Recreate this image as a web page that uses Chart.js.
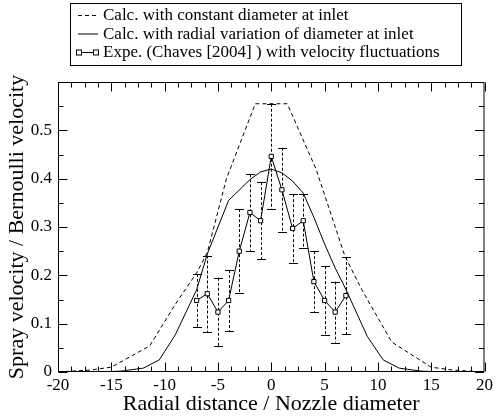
<!DOCTYPE html>
<html>
<head>
<meta charset="utf-8">
<script src="https://cdn.jsdelivr.net/npm/chart.js@4/dist/chart.umd.min.js"></script>
<style>
  html, body { margin: 0; padding: 0; background: #fff; }
  #wrap { width: 496px; height: 420px; }
</style>
</head>
<body>
<div id="wrap"><canvas id="chart" width="496" height="420"></canvas></div>
<script>
// Calc. with constant diameter at inlet (dashed)
const constX = [-20, -17, -15, -11.4, -9, -7, -6, -4.2, -1.5, 1.5, 4.2, 6.9, 8.5, 11.3, 15, 17, 20];
const constY = [0, 0.004, 0.01, 0.054, 0.14, 0.205, 0.247, 0.40, 0.555, 0.555, 0.42, 0.24, 0.17, 0.062, 0.01, 0.004, 0];

// Calc. with radial variation of diameter at inlet (solid)
const radialX = [-20, -16, -14, -12, -10.5, -9, -7, -6, -4, -2, -1, 0, 1, 2, 3, 4, 5, 6, 7, 9, 10.5, 12, 14, 16, 20];
const radialY = [0, 0, 0.002, 0.008, 0.025, 0.077, 0.17, 0.244, 0.355, 0.398, 0.414, 0.42, 0.412, 0.395, 0.37, 0.32, 0.265, 0.215, 0.171, 0.074, 0.025, 0.008, 0.002, 0, 0];

// Experiment (Chaves 2004) with velocity fluctuations
const expX = [-7, -6, -5, -4, -3, -2, -1, 0, 1, 2, 3, 4, 5, 6, 7];
const expY = [0.148, 0.162, 0.124, 0.148, 0.25, 0.33, 0.313, 0.446, 0.377, 0.297, 0.313, 0.187, 0.148, 0.124, 0.158];
const expErr = [0.055, 0.079, 0.071, 0.063, 0.087, 0.079, 0.08, 0.109, 0.087, 0.071, 0.056, 0.063, 0.071, 0.063, 0.08];

const xTicks = [-20, -15, -10, -5, 0, 5, 10, 15, 20];
const yTicks = [0, 0.1, 0.2, 0.3, 0.4, 0.5, 0.6];
const seriesNames = [
  'Calc. with constant diameter at inlet',
  'Calc. with radial variation of diameter at inlet',
  'Expe. (Chaves [2004] ) with velocity fluctuations'
];

const serif = '"Liberation Serif", "DejaVu Serif", serif';
const toPoints = (xs, ys) => xs.map((x, i) => ({ x: x, y: ys[i] }));

// error bars under the markers
const errorBars = {
  id: 'errorBars',
  beforeDatasetsDraw(chart) {
    const { ctx, scales: { x, y } } = chart;
    ctx.save();
    ctx.strokeStyle = '#000';
    ctx.lineWidth = 1;
    expX.forEach((v, i) => {
      const px = Math.round(x.getPixelForValue(v)) + 0.5;
      const top = y.getPixelForValue(expY[i] + expErr[i]);
      const bot = y.getPixelForValue(expY[i] - expErr[i]);
      ctx.setLineDash([3, 2]);
      ctx.beginPath();
      ctx.moveTo(px, top);
      ctx.lineTo(px, bot);
      ctx.stroke();
      ctx.setLineDash([]);
      ctx.beginPath();
      ctx.moveTo(px - 4.5, Math.round(top) + 0.5);
      ctx.lineTo(px + 4.5, Math.round(top) + 0.5);
      ctx.moveTo(px - 4.5, Math.round(bot) + 0.5);
      ctx.lineTo(px + 4.5, Math.round(bot) + 0.5);
      ctx.stroke();
    });
    ctx.restore();
  }
};

// frame with inward ticks on all four sides
const frameTicks = {
  id: 'frameTicks',
  afterDraw(chart) {
    const { ctx, chartArea: a, scales: { x, y } } = chart;
    const L = a.left + 0.5, R = a.right - 0.5, T = a.top + 0.5, B = a.bottom - 0.5;
    ctx.save();
    ctx.strokeStyle = '#000';
    ctx.lineWidth = 1;
    ctx.strokeRect(L, T, R - L, B - T);
    ctx.beginPath();
    for (let i = 0; i <= 32; i++) {
      const px = Math.round(x.getPixelForValue(-20 + i * 1.25)) + 0.5;
      const len = i % 4 === 0 ? 9 : 5;
      ctx.moveTo(px, B); ctx.lineTo(px, B - len);
      ctx.moveTo(px, T); ctx.lineTo(px, T + len);
    }
    for (let i = 0; i <= 12; i++) {
      const py = Math.round(y.getPixelForValue(i * 0.05)) + 0.5;
      const len = i % 2 === 0 ? 9 : 5;
      ctx.moveTo(L, py); ctx.lineTo(L + len, py);
      ctx.moveTo(R, py); ctx.lineTo(R - len, py);
    }
    ctx.stroke();
    ctx.restore();
  }
};

// boxed legend at the top
const boxLegend = {
  id: 'boxLegend',
  afterDraw(chart) {
    const ctx = chart.ctx;
    ctx.save();
    ctx.strokeStyle = '#000';
    ctx.lineWidth = 1;
    ctx.strokeRect(70.5, 3.5, 391, 62);
    ctx.font = '17px ' + serif;
    ctx.fillStyle = '#000';
    ctx.textBaseline = 'middle';
    const rows = [15, 33.5, 52];
    seriesNames.forEach((name, i) => {
      const yy = rows[i] + 0.5;
      const ds = chart.data.datasets[i];
      ctx.setLineDash(ds.borderDash || []);
      ctx.beginPath();
      ctx.moveTo(78, yy);
      ctx.lineTo(98, yy);
      ctx.stroke();
      ctx.setLineDash([]);
      if (i === 2) {
        ctx.fillStyle = '#fff';
        [79, 96].forEach(cx => {
          ctx.fillRect(cx - 2.5, yy - 2.5, 5, 5);
          ctx.strokeRect(cx - 2.5, yy - 2.5, 5, 5);
        });
        ctx.fillStyle = '#000';
      }
      ctx.fillText(name, 103, rows[i] + 1);
    });
    ctx.restore();
  }
};

new Chart(document.getElementById('chart'), {
  type: 'scatter',
  data: {
    datasets: [
      {
        label: seriesNames[0],
        data: toPoints(constX, constY),
        showLine: true,
        borderColor: '#000',
        borderWidth: 1,
        borderDash: [4, 3],
        pointRadius: 0,
        tension: 0
      },
      {
        label: seriesNames[1],
        data: toPoints(radialX, radialY),
        showLine: true,
        borderColor: '#000',
        borderWidth: 1,
        pointRadius: 0,
        tension: 0
      },
      {
        label: seriesNames[2],
        data: toPoints(expX, expY),
        showLine: true,
        borderColor: '#000',
        borderWidth: 1,
        pointStyle: 'rect',
        pointRadius: 3,
        pointBorderWidth: 1,
        pointBackgroundColor: '#fff',
        pointBorderColor: '#000',
        tension: 0
      }
    ]
  },
  options: {
    responsive: false,
    animation: false,
    devicePixelRatio: 1,
    layout: { padding: { top: 82, right: 8, left: 0, bottom: 0 } },
    plugins: {
      legend: { display: false },
      tooltip: { enabled: false }
    },
    scales: {
      x: {
        type: 'linear',
        min: -20,
        max: 20,
        afterBuildTicks: s => { s.ticks = xTicks.map(v => ({ value: v })); },
        afterFit: s => { s.height = 48; },
        grid: { display: false, drawTicks: false },
        border: { display: false },
        ticks: { color: '#000', padding: 3, maxRotation: 0, font: { family: serif, size: 17 } },
        title: {
          display: true,
          text: 'Radial distance / Nozzle diameter',
          color: '#000',
          padding: { top: 0, bottom: 3 },
          font: { family: serif, size: 22 }
        }
      },
      y: {
        type: 'linear',
        min: 0,
        max: 0.6,
        afterBuildTicks: s => { s.ticks = yTicks.map(v => ({ value: v })); },
        afterFit: s => { s.width = 58; },
        grid: { display: false, drawTicks: false },
        border: { display: false },
        ticks: {
          color: '#000',
          padding: 6,
          font: { family: serif, size: 17 },
          callback: v => (v >= 0.6 ? '' : String(Math.round(v * 10) / 10))
        },
        title: {
          display: true,
          text: 'Spray velocity / Bernoulli velocity',
          color: '#000',
          padding: { top: 4, bottom: 0 },
          font: { family: serif, size: 22 }
        }
      }
    }
  },
  plugins: [errorBars, frameTicks, boxLegend]
});
</script>
</body>
</html>
